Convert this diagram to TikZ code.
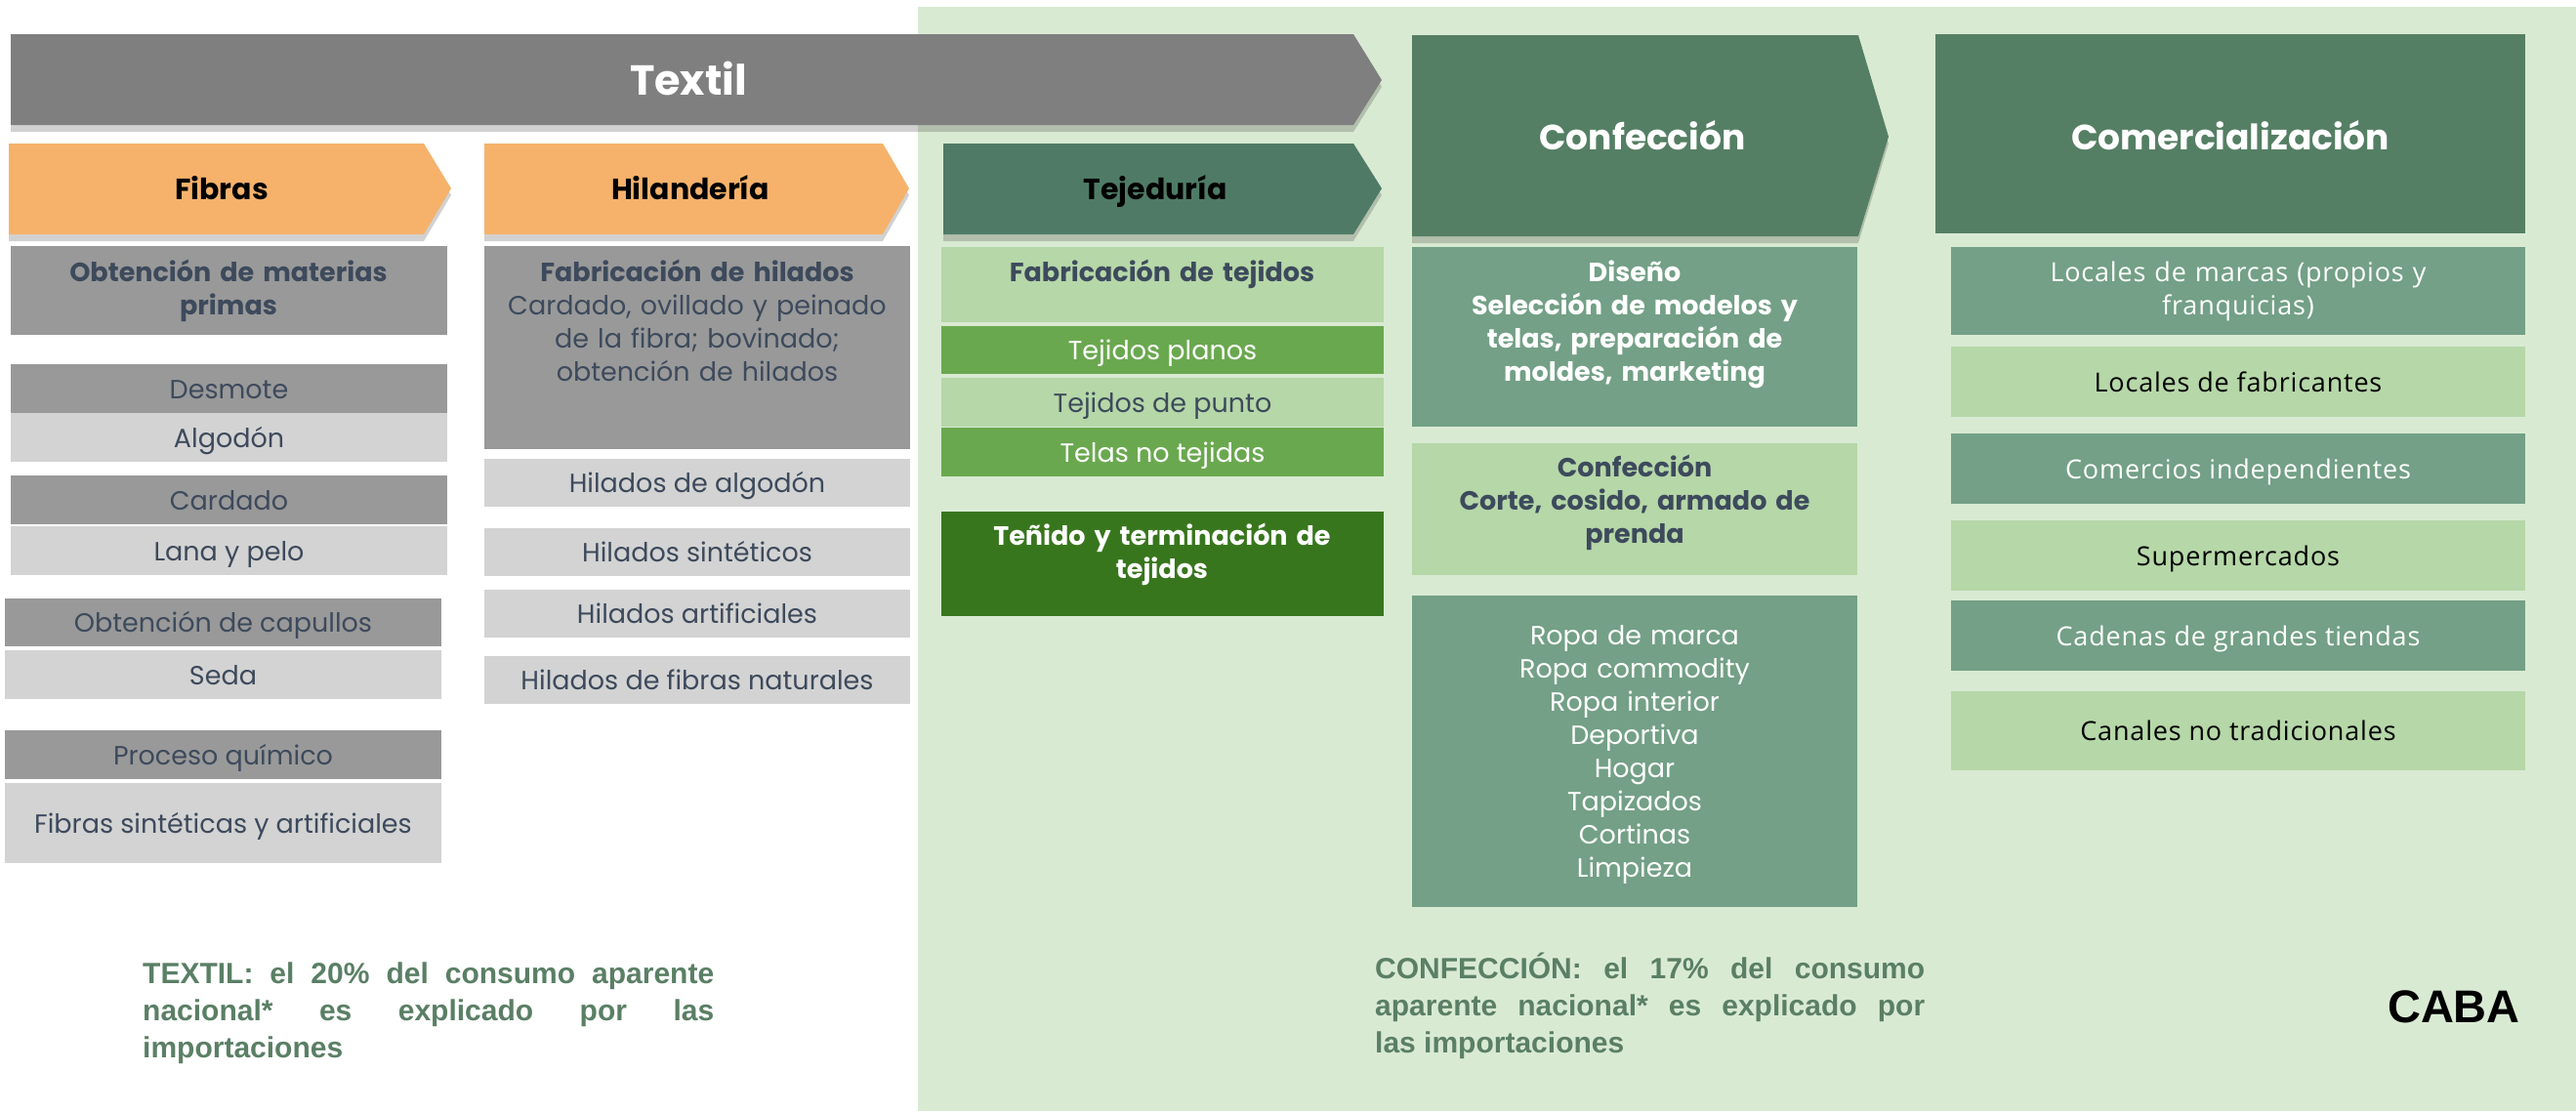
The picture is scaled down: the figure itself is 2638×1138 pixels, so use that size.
\documentclass[tikz,border=0pt]{standalone}
\usepackage{fontspec}
\setmainfont{Poppins}
\newfontfamily\arialf{Liberation Sans}
\newfontfamily\osans[LetterSpace=3]{Open Sans}
\usetikzlibrary{shadows,fit}
\definecolor{bggreen}{HTML}{D9EAD3}
\definecolor{tgray}{HTML}{7F7F7F}
\definecolor{orng}{HTML}{F6B26B}
\definecolor{dkgreen}{HTML}{557F64}
\definecolor{tejgreen}{HTML}{4F7B66}
\definecolor{medgreen}{HTML}{73A086}
\definecolor{ltgreen}{HTML}{B6D7A8}
\definecolor{midgreen}{HTML}{6AA84F}
\definecolor{drkgreen}{HTML}{38761D}
\definecolor{gbox}{HTML}{999999}
\definecolor{lgbox}{HTML}{D3D3D3}
\definecolor{slate}{HTML}{3D4A5C}
\definecolor{notegreen}{HTML}{5A7F65}
\tikzset{
 shd/.style={drop shadow={shadow xshift=0pt, shadow yshift=-7pt, opacity=0.18, fill=black}},
 rb/.style={inner sep=0pt, outer sep=0pt, fit={#1}},
 body/.style={font=\fontsize{27}{34}\selectfont, inner sep=0pt},
 bodyb/.style={font=\bfseries\fontsize{27}{34}\selectfont, inner sep=0pt},
 one/.style={text height=20pt, text depth=0pt, anchor=center},
 multi/.style={align=center, text width=#1, anchor=base},
 com/.style={font=\osans\fontsize{27}{34}\selectfont, inner sep=0pt},
 head/.style={font=\bfseries\fontsize{30}{36}\selectfont, inner sep=0pt, anchor=base},
 big/.style={font=\bfseries\fontsize{36}{40}\selectfont, text=white, inner sep=0pt, anchor=base},
 note/.style={font=\arialf\bfseries\fontsize{30}{38}\selectfont, text=notegreen, align=justify, inner sep=0pt, anchor=base west},
}
% box with one centred line of text: name, corners, fill, text style, text
\newcommand\bxt[5]{%
 \node[rb={#2}, fill=#3] (#1) {};
 \node[#4, one] (#1-t) at (#1.center) {#5};}
\begin{document}
\begin{tikzpicture}[x=1pt,y=-1pt]
\useasboundingbox (0,0) rectangle (2638,1138);
\fill[white] (0,0) rectangle (2638,1138);
\fill[bggreen] (940,7) rectangle (2638,1138);

% Chevrons
\fill[tgray, shd] (11,35) -- (1386,35) -- (1415,82) -- (1386,128) -- (11,128) -- cycle;
\node[inner sep=0pt, anchor=base, font=\bfseries\fontsize{43}{48}\selectfont, text=white] (textil) at (705,97) {Textil};
\fill[orng, shd] (9,147) -- (434,147) -- (462,193) -- (434,240) -- (9,240) -- cycle;
\node[head] (fibras) at (227,204) {Fibras};
\fill[orng, shd] (496,147) -- (904,147) -- (931,193) -- (904,240) -- (496,240) -- cycle;
\node[head] (hilanderia) at (707,204) {Hilandería};
\fill[tejgreen, shd] (966,147) -- (1386,147) -- (1415,193) -- (1386,240) -- (966,240) -- cycle;
\node[head] (tejeduria) at (1183,204) {Tejeduría};
\fill[dkgreen, shd] (1446,36) -- (1903,36) -- (1934,140) -- (1903,242) -- (1446,242) -- cycle;
\node[big] (confeccion) at (1682,153) {Confección};
\fill[dkgreen] (1982,35) rectangle (2586,239);
\node[big] (comercializacion) at (2284,153) {Comercialización};

% Fibras column
\node[rb={(11,252)(458,343)}, fill=gbox] (obtmat) {};
\node[bodyb, text=slate, multi=430pt] (obtmat-t) at (234,288) {Obtención de materias\\primas};
\bxt{desmote}{(11,373)(458,423)}{gbox}{body, text=slate}{Desmote}
\bxt{algodon}{(11,423)(458,473)}{lgbox}{body, text=slate}{Algodón}
\bxt{cardado}{(11,487)(458,537)}{gbox}{body, text=slate}{Cardado}
\bxt{lana}{(11,539)(458,589)}{lgbox}{body, text=slate}{Lana y pelo}
\bxt{capullos}{(5,613)(452,662)}{gbox}{body, text=slate}{Obtención de capullos}
\bxt{seda}{(5,666)(452,716)}{lgbox}{body, text=slate}{Seda}
\bxt{quimico}{(5,748)(452,798)}{gbox}{body, text=slate}{Proceso químico}
\bxt{sinteticas}{(5,802)(452,884)}{lgbox}{body, text=slate}{Fibras sintéticas y artificiales}

% Hilanderia column
\node[rb={(496,252)(932,460)}, fill=gbox] (fabhil) {};
\node[body, text=slate, multi=420pt] (fabhil-t) at (714,288) {{\bfseries Fabricación de hilados}\\Cardado, ovillado y peinado\\de la fibra; bovinado;\\obtención de hilados};
\bxt{hilalg}{(496,470)(932,519)}{lgbox}{body, text=slate}{Hilados de algodón}
\bxt{hilsin}{(496,541)(932,590)}{lgbox}{body, text=slate}{Hilados sintéticos}
\bxt{hilart}{(496,604)(932,653)}{lgbox}{body, text=slate}{Hilados artificiales}
\bxt{hilnat}{(496,672)(932,721)}{lgbox}{body, text=slate}{Hilados de fibras naturales}

% Tejeduria column
\node[rb={(964,253)(1417,330)}, fill=ltgreen] (fabtej) {};
\node[bodyb, text=slate, multi=440pt] (fabtej-t) at (1190,288) {Fabricación de tejidos};
\bxt{planos}{(964,334)(1417,383)}{midgreen}{body, text=white}{Tejidos planos}
\bxt{punto}{(964,387)(1417,437)}{ltgreen}{body, text=slate}{Tejidos de punto}
\bxt{telas}{(964,438)(1417,488)}{midgreen}{body, text=white}{Telas no tejidas}
\node[rb={(964,524)(1417,631)}, fill=drkgreen] (tenido) {};
\node[bodyb, text=white, multi=440pt] (tenido-t) at (1190,558) {Teñido y terminación de\\tejidos};

% Confeccion column
\node[rb={(1446,253)(1902,437)}, fill=medgreen] (diseno) {};
\node[bodyb, text=white, multi=440pt] (diseno-t) at (1674,288) {Diseño\\Selección de modelos y\\telas, preparación de\\moldes, marketing};
\node[rb={(1446,454)(1902,589)}, fill=ltgreen] (confbox) {};
\node[bodyb, text=slate, multi=440pt] (confbox-t) at (1674,488) {Confección\\Corte, cosido, armado de\\prenda};
\node[rb={(1446,610)(1902,929)}, fill=medgreen] (ropa) {};
\node[body, text=white, multi=440pt] (ropa-t) at (1674,660) {Ropa de marca\\Ropa commodity\\Ropa interior\\Deportiva\\Hogar\\Tapizados\\Cortinas\\Limpieza};

% Comercializacion column
\node[rb={(1998,253)(2586,343)}, fill=medgreen] (marcas) {};
\node[com, text=white, multi=570pt] (marcas-t) at (2292,288) {Locales de marcas (propios y\\franquicias)};
\bxt{fabricantes}{(1998,355)(2586,427)}{ltgreen}{com, text=black}{Locales de fabricantes}
\bxt{comercios}{(1998,444)(2586,516)}{medgreen}{com, text=white}{Comercios independientes}
\bxt{super}{(1998,533)(2586,605)}{ltgreen}{com, text=black}{Supermercados}
\bxt{cadenas}{(1998,615)(2586,687)}{medgreen}{com, text=white}{Cadenas de grandes tiendas}
\bxt{canales}{(1998,708)(2586,789)}{ltgreen}{com, text=black}{Canales no tradicionales}

% Notes
\node[note, text width=585pt] (notetextil) at (146,1007) {TEXTIL: el 20\% del consumo aparente\linebreak nacional* es explicado por las\linebreak importaciones};
\node[note, text width=563pt] (noteconf) at (1408,1002) {CONFECCIÓN: el 17\% del consumo\linebreak aparente nacional* es explicado por\linebreak las importaciones};
\node[inner sep=0pt, anchor=base east, font=\arialf\bfseries\fontsize{47}{52}\selectfont, text=black] (caba) at (2581,1047) {CABA};
\end{tikzpicture}
\end{document}
